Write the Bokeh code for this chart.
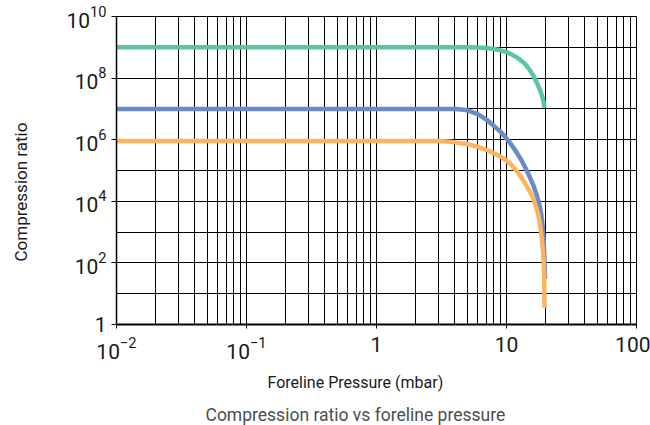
from bokeh.plotting import figure
from bokeh.models import (Range1d, FixedTicker, LogTickFormatter, Title, LogAxis,
                          CustomJSTickFormatter)
from bokeh.embed import file_html
from bokeh.resources import INLINE

# ---- data ----
pressure_green = [0.01, 5, 6, 7, 8, 9, 10, 11, 12, 13, 14, 15, 16, 17, 18, 18.5, 19, 19.4, 19.6]
ratio_green = [1e9, 1e9, 9.8e8, 9.5e8, 8.8e8, 8e8, 7e8, 5.8e8, 4.7e8, 3.7e8, 2.8e8, 1.9e8,
               1.25e8, 7.5e7, 4.3e7, 3.2e7, 2.2e7, 1.5e7, 1.1e7]

pressure_blue = [0.01, 4, 4.5, 5, 6, 7, 8, 9, 10, 11, 12, 13, 14, 15, 16, 17, 18, 18.5, 19,
                 19.3, 19.5, 19.7, 19.8]
ratio_blue = [1e7, 1e7, 9.6e6, 9e6, 6.8e6, 4.5e6, 2.8e6, 1.8e6, 1.1e6, 6.5e5, 3.8e5, 2.2e5,
              1.2e5, 6.5e4, 3.5e4, 1.7e4, 7e3, 3.8e3, 1.5e3, 600, 200, 60, 30]

pressure_orange = [0.01, 3, 3.5, 4, 5, 6, 7, 8, 9, 10, 11, 12, 13, 14, 15, 16, 17, 17.5, 18,
                   18.5, 19, 19.3, 19.5, 19.6]
ratio_orange = [9e5, 9e5, 8.7e5, 8.2e5, 7.2e5, 5.9e5, 4.7e5, 3.6e5, 2.8e5, 2.1e5, 1.45e5,
                9.5e4, 6e4, 3.6e4, 2.2e4, 1.3e4, 6e3, 3.8e3, 2e3, 900, 300, 110, 40, 3.5]

x_decades = [0.01, 0.1, 1, 10, 100]
x_minor = [m * d for d in [0.01, 0.1, 1, 10] for m in range(2, 10)]
x_label_overrides = {10: "10", 100: "100"}
y_label_ticks = [1, 1e2, 1e4, 1e6, 1e8, 1e10]
y_grid_ticks = [10.0 ** k for k in range(0, 11)]

x_title = "Foreline Pressure (mbar)"
y_title = "Compression ratio"
caption = "Compression ratio vs foreline pressure"

colors = {"green": "#5bc5a8", "blue": "#6a8bc8", "orange": "#fcb45f"}

p = figure(width=650, height=425, x_axis_type="log", y_axis_type="log",
           x_range=Range1d(0.01, 100), y_range=Range1d(1, 1e10),
           output_backend="svg", toolbar_location=None,
           min_border_left=116, min_border_right=14, min_border_top=16,
           min_border_bottom=100)
p.background_fill_color = "white"
p.border_fill_color = "white"
p.outline_line_color = "black"
p.outline_line_width = 1

# grids
p.xgrid.ticker = FixedTicker(ticks=x_decades, minor_ticks=x_minor)
p.xgrid.grid_line_color = "black"
p.xgrid.grid_line_alpha = 1
p.xgrid.minor_grid_line_color = "black"
p.xgrid.minor_grid_line_alpha = 1
p.ygrid.ticker = FixedTicker(ticks=y_grid_ticks)
p.ygrid.grid_line_color = "black"
p.ygrid.grid_line_alpha = 1

tick_font = "Liberation Sans Narrow, Roboto"

xa = p.xaxis[0]
xa.ticker = FixedTicker(ticks=x_decades, minor_ticks=x_minor)
xa.formatter = LogTickFormatter(min_exponent=1)
xa.major_label_overrides = x_label_overrides
xa.axis_line_color = "black"
xa.axis_line_width = 2
xa.major_tick_in = 0
xa.major_tick_out = 4
xa.minor_tick_in = 0
xa.minor_tick_out = 0
xa.major_tick_line_color = "black"
xa.major_label_standoff = 8
xa.major_label_text_font = tick_font
xa.major_label_text_font_size = "21px"
xa.major_label_text_color = "#1a1a1a"

ya = p.yaxis[0]
ya.ticker = FixedTicker(ticks=y_label_ticks)
ya.formatter = LogTickFormatter(min_exponent=1)
ya.axis_line_color = "black"
ya.axis_line_width = 1.5
ya.major_tick_in = 0
ya.major_tick_out = 5
ya.minor_tick_in = 0
ya.minor_tick_out = 0
ya.major_tick_line_color = "black"
ya.major_label_standoff = 5
ya.major_label_text_font = tick_font
ya.major_label_text_font_size = "21px"
ya.major_label_text_color = "#1a1a1a"

p.line(pressure_green, ratio_green, line_color=colors["green"], line_width=4.5)
p.line(pressure_blue, ratio_blue, line_color=colors["blue"], line_width=4.5)
p.line(pressure_orange, ratio_orange, line_color=colors["orange"], line_width=4.5)

# invisible spacer axis that pushes the y title further to the left
spacer = LogAxis(ticker=FixedTicker(ticks=[1]),
                 formatter=CustomJSTickFormatter(code="return ''"),
                 axis_line_color=None, major_tick_in=0, major_tick_out=33,
                 major_tick_line_color="white", minor_tick_out=0, minor_tick_in=0,
                 major_label_standoff=0)
p.add_layout(spacer, "left")

p.add_layout(Title(text=x_title, align="left", offset=151, standoff=19,
                   text_font="Roboto", text_font_size="16px", text_font_style="normal",
                   text_line_height=1.0, text_color="#1a1a1a"), "below")
p.add_layout(Title(text=caption, align="left", offset=89, standoff=2,
                   text_font="Roboto", text_font_size="17.5px", text_font_style="normal",
                   text_line_height=1.0, text_color="#4d4d4d"), "below")
p.add_layout(Title(text=y_title, align="left", offset=63, standoff=0,
                   text_font="Roboto", text_font_size="17px", text_font_style="normal",
                   text_color="#1a1a1a"), "left")

open("out.html", "w").write(file_html(p, INLINE))
